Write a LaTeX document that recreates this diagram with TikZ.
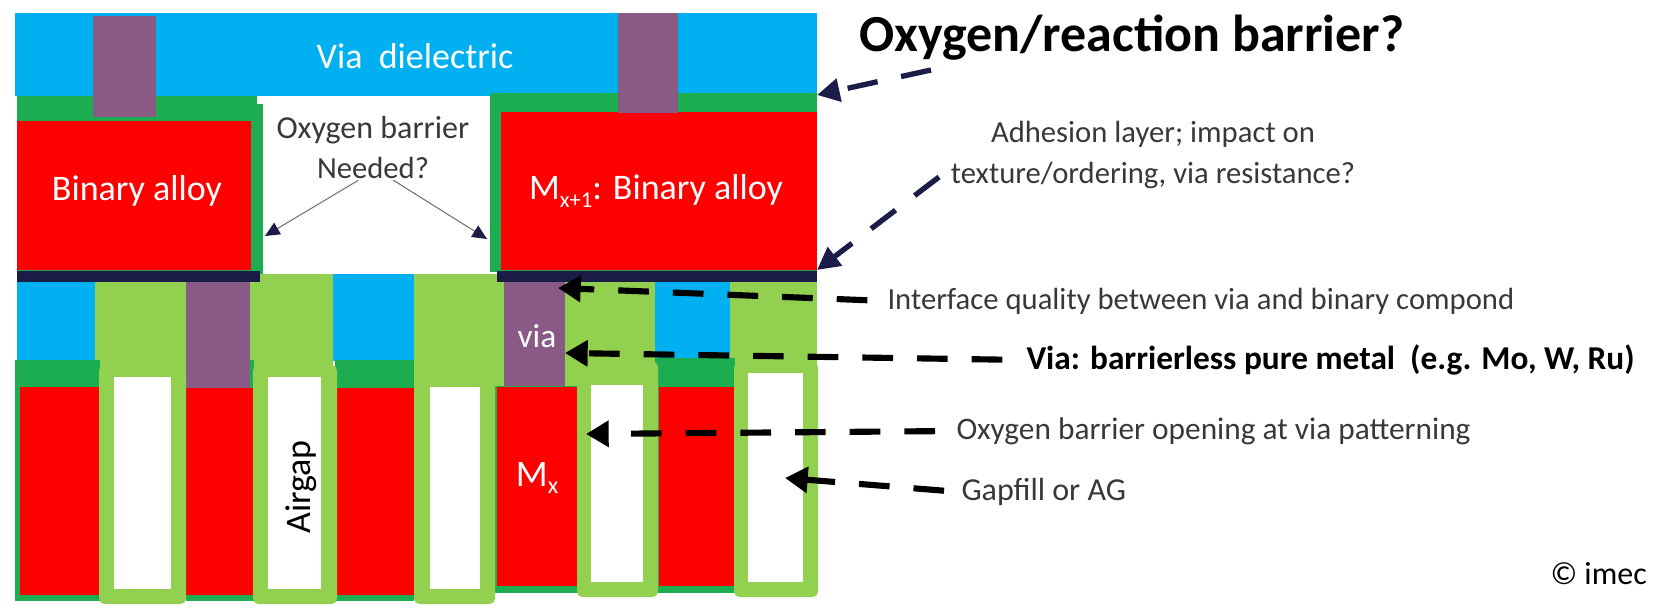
\documentclass[tikz,border=0pt]{standalone}
\usepackage{fontspec}
\setmainfont{Carlito}
\usetikzlibrary{arrows.meta}

\definecolor{viablue}{RGB}{0,176,240}
\definecolor{metalred}{RGB}{255,0,0}
\definecolor{barriergreen}{RGB}{28,173,80}
\definecolor{gapgreen}{RGB}{146,208,80}
\definecolor{viapurple}{RGB}{137,90,133}
\definecolor{linernavy}{RGB}{28,28,72}

\tikzset{every picture/.style={line width=0.75pt}}
\tikzset{
  blueblock/.style={fill=viablue,draw=none},
  redblock/.style={fill=metalred,draw=none},
  greenblock/.style={fill=barriergreen,draw=none},
  gapblock/.style={fill=gapgreen,draw=none},
  gapframe/.style={fill=gapgreen,draw=none,rounded corners=4pt},
  viablock/.style={fill=viapurple,draw=none},
  linerblock/.style={fill=linernavy,draw=none},
  whiteblock/.style={fill=white,draw=none},
  darktext/.style={inner sep=0.75pt,text=black!78,font=\fontsize{23}{27}\selectfont},
  whitetext/.style={inner sep=0.75pt,text=white,font=\fontsize{27}{32}\selectfont},
  navydash/.style={draw=linernavy,line width=4pt,dash pattern=on 23pt off 18pt,-{Triangle[length=17pt,width=17pt]}},
  blackdash/.style={draw=black,line width=4.6pt,dash pattern=on 23pt off 18pt,-{Triangle[length=17pt,width=19pt]}},
  thinarrow/.style={draw=black!55,line width=0.8pt,-{Triangle[length=11pt,width=10pt,color=linernavy,fill=linernavy]}},
}

\begin{document}
\begin{tikzpicture}[x=0.75pt,y=0.75pt,yscale=-1,xscale=1]
\useasboundingbox (0,0) rectangle (1666,609);

%Shape: Via dielectric
\draw [blueblock] (15,13) rectangle (817,96);
%Shape: Upper barriers
\draw [greenblock] (17,96) rectangle (257,275);
\draw [greenblock] (250,104) rectangle (263,275);
\draw [greenblock] (490,93) rectangle (817,272);
%Shape: Upper metal
\draw [redblock] (17,121) rectangle (251,270);
\draw [redblock] (501,112) rectangle (817,270);
%Shape: Upper vias
\draw [viablock] (93,16) rectangle (156,117);
\draw [viablock] (618,13) rectangle (678,113);

%Shape: Via level dielectric
\draw [blueblock] (17,282) rectangle (95,361);
\draw [blueblock] (333,274) rectangle (414,361);
\draw [blueblock] (655,282) rectangle (730,358);
%Shape: Via level gapfill
\draw [gapblock] (95,282) rectangle (186,370);
\draw [gapblock] (250,274) rectangle (333,370);
\draw [gapblock] (414,274) rectangle (504,387);
\draw [gapblock] (565,282) rectangle (655,386);
\draw [gapblock] (730,282) rectangle (817,370);
%Shape: Lower barriers
\draw [greenblock] (15,360) rectangle (100,601);
\draw [greenblock] (186,360) rectangle (254,601);
\draw [greenblock] (335,360) rectangle (414,601);
\draw [greenblock] (655,358) rectangle (735,593);
\draw [greenblock] (495,386) rectangle (580,593);
%Shape: Lower metal
\draw [redblock] (20,387) rectangle (99,595);
\draw [redblock] (186,388) rectangle (253,595);
\draw [redblock] (336,388) rectangle (414,595);
\draw [redblock] (497,387) rectangle (578,586);
\draw [redblock] (659,387) rectangle (735,586);
%Shape: Lower vias
\draw [viablock] (186,282) rectangle (250,388);
\draw [viablock] (504,282) rectangle (565,386);
%Shape: Adhesion layer
\draw [linerblock] (17,271) rectangle (260,282);
\draw [linerblock] (497,271) rectangle (817,282);

%Shape: Gapfill frames
\draw [gapframe] (99,365) rectangle (186,604);
\draw [gapframe] (253,365) rectangle (337,604);
\draw [gapframe] (414,370) rectangle (495,604);
\draw [gapframe] (577,362) rectangle (658,597);
\draw [gapframe] (734,362) rectangle (818,597);
%Shape: Airgaps
\draw [whiteblock] (114,377) rectangle (171,589);
\draw [whiteblock] (268,377) rectangle (321,589);
\draw [whiteblock] (430,387) rectangle (480,589);
\draw [whiteblock] (591,385) rectangle (643,582);
\draw [whiteblock] (748,373) rectangle (803,582);

% Text Node
\draw (415,56) node (dielectriclabel) [whitetext] {Via\ \ dielectric};
% Text Node
\draw (137,191) node (leftalloylabel) [whitetext] {Binary alloy};
% Text Node
\draw (656,191) node (rightalloylabel) [whitetext] {M\raisebox{-6pt}{\fontsize{17}{17}\selectfont x+1}: Binary alloy};
% Text Node
\draw (373,130) node (oxygenlabel) [darktext,font=\fontsize{24}{28}\selectfont] {Oxygen barrier};
% Text Node
\draw (373,168) node (neededlabel) [darktext] {Needed?};
% Text Node
\draw (537,336) node (vialabel) [whitetext,font=\fontsize{25}{30}\selectfont] {via};
% Text Node
\draw (537,478) node (mxlabel) [whitetext,font=\fontsize{28}{32}\selectfont] {M\raisebox{-5pt}{\fontsize{18}{18}\selectfont x}};
% Text Node
\draw (301,487) node (airgaplabel) [inner sep=0.75pt,rotate=90,font=\fontsize{27}{32}\selectfont] {Airgap};
% Text Node
\draw (858,38) node (reactionlabel) [anchor=west,inner sep=0.75pt,font=\fontsize{39}{46}\selectfont\bfseries] {Oxygen/reaction barrier?};
% Text Node
\draw (1153,134) node (adhesionlabel) [darktext] {Adhesion layer; impact on};
% Text Node
\draw (1153,175) node (texturelabel) [darktext] {texture/ordering, via resistance?};
% Text Node
\draw (886,301) node (interfacelabel) [darktext,anchor=west] {Interface quality between via and binary compond};
% Text Node
\draw (1025,360) node (purelabel) [anchor=west,inner sep=0.75pt,font=\fontsize{25}{30}\selectfont\bfseries] {Via: barrierless pure metal\ \ (e.g. Mo, W, Ru)};
% Text Node
\draw (955,431) node (openinglabel) [darktext,anchor=west,font=\fontsize{23.5}{28}\selectfont] {Oxygen barrier opening at via patterning};
% Text Node
\draw (960,492) node (gapfilllabel) [darktext,anchor=west,font=\fontsize{24}{28}\selectfont] {Gapfill or AG};
% Text Node
\draw (1549,574) node (imeclabel) [anchor=west,inner sep=0.75pt,font=\fontsize{24}{28}\selectfont] {\textcopyright\ imec};

%Straight Lines
\coordinate (reactionfoot) at (931,70);
\coordinate (reactiontip) at (817,95);
\coordinate (adhesionfoot) at (939,177);
\coordinate (adhesiontip) at (817,270);
\coordinate (interfacetip) at (558,288);
\coordinate (puretip) at (565,353);
\coordinate (openingtip) at (586,434);
\coordinate (gapfilltip) at (785,478);
\coordinate (leftwalltip) at (265,236);
\coordinate (rightwalltip) at (487,239);
\draw [navydash] (reactionfoot) -- (reactiontip);
\draw [navydash] (adhesionfoot) -- (adhesiontip);
\draw [blackdash,shorten <=14pt] (interfacelabel.west) -- (interfacetip);
\draw [blackdash,shorten <=17pt] (purelabel.west) -- (puretip);
\draw [blackdash,shorten <=15pt] (openinglabel.west) -- (openingtip);
\draw [blackdash,shorten <=12pt] (gapfilllabel.west) -- (gapfilltip);
\draw [thinarrow] (neededlabel.-140) -- (leftwalltip);
\draw [thinarrow] (neededlabel.-31) -- (rightwalltip);

\end{tikzpicture}
\end{document}
